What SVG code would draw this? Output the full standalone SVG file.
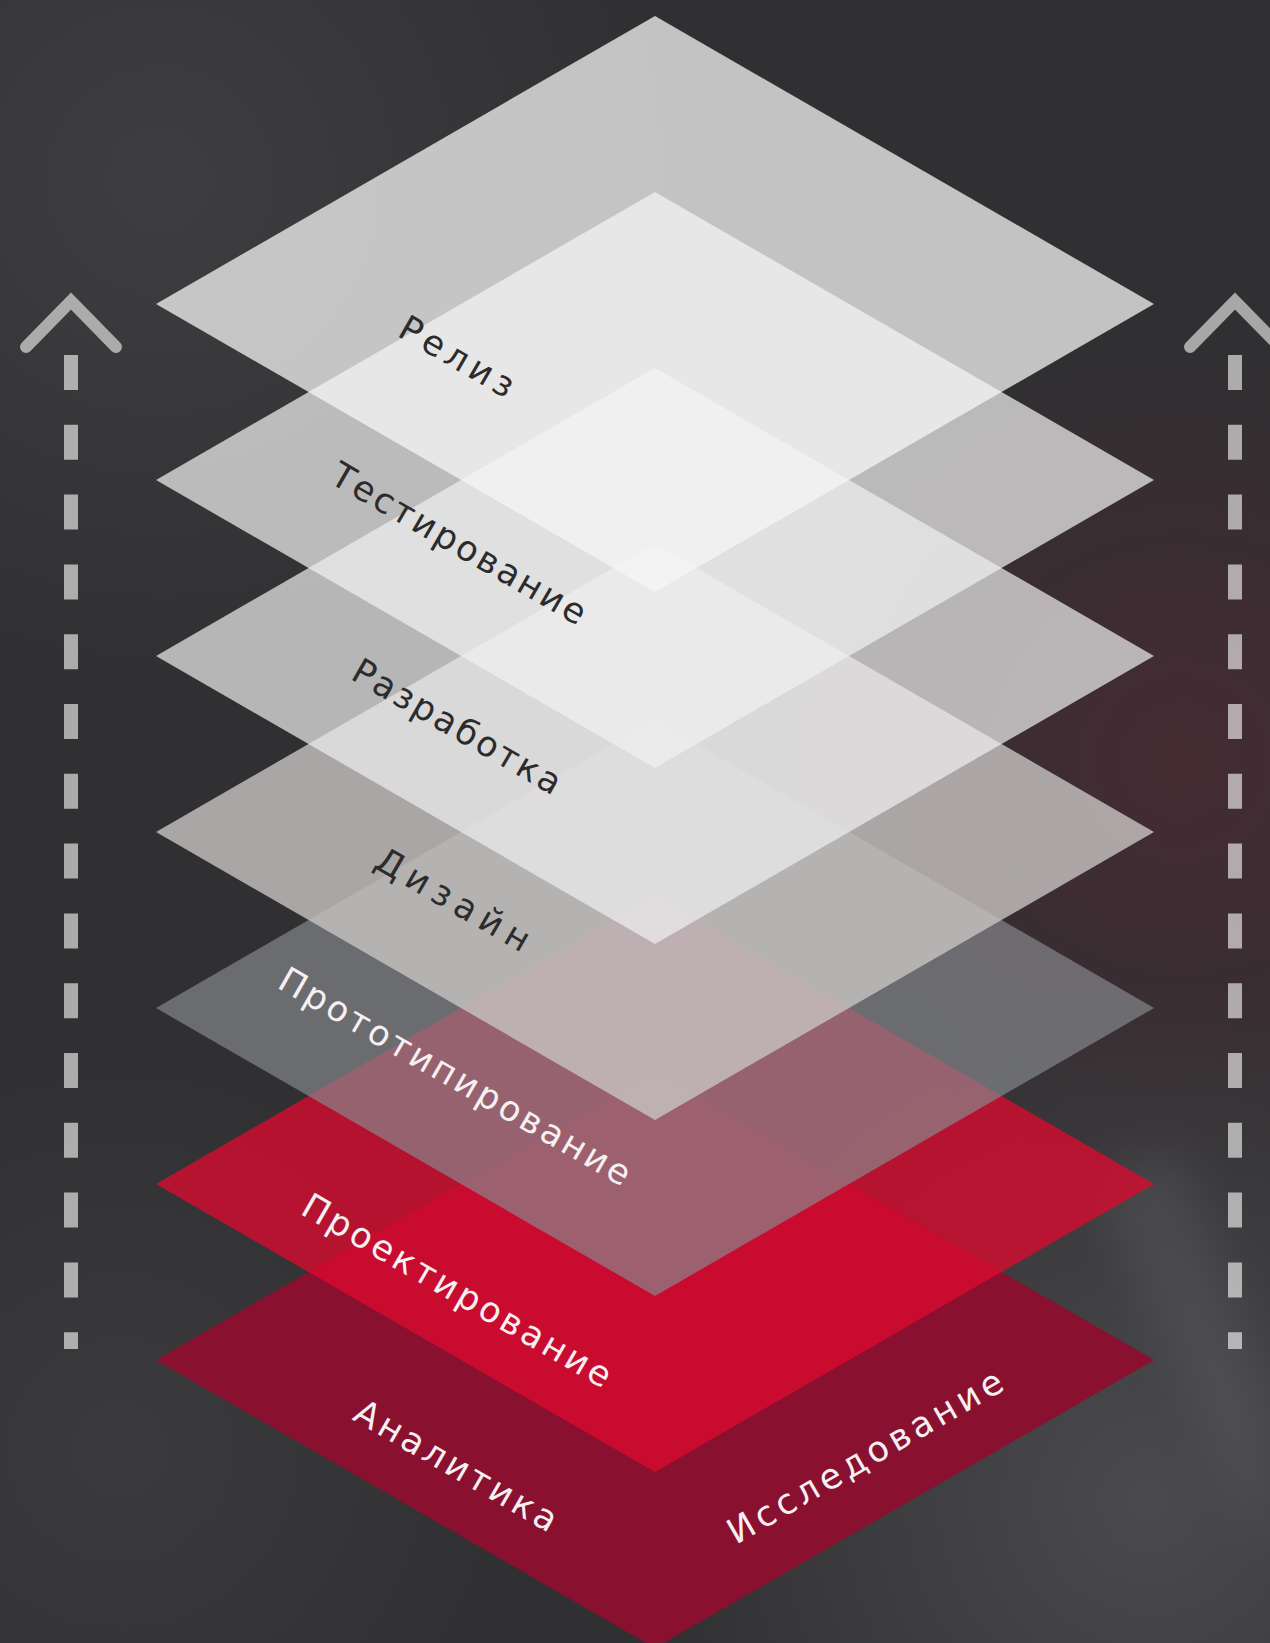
<svg xmlns="http://www.w3.org/2000/svg" width="1270" height="1643" viewBox="0 0 1270 1643">
  <defs>
    <style>
      .lbl { font-family: "DejaVu Sans", "Liberation Sans", sans-serif; font-size: 35px; }
      .dark { fill: #2c2b2c; }
      .light { fill: #f6f0f2; }
      .dash { stroke: #ffffff; stroke-opacity: 0.6; stroke-width: 14; stroke-dasharray: 35 34.8; fill: none; }
      .chev { stroke: #ffffff; stroke-opacity: 0.58; stroke-width: 12; fill: none; stroke-linecap: round; stroke-linejoin: miter; }
    </style>
    <radialGradient id="smokeBR" cx="1150" cy="1500" r="520" gradientUnits="userSpaceOnUse">
      <stop offset="0" stop-color="#56555a" stop-opacity="0.7"/>
      <stop offset="1" stop-color="#56555a" stop-opacity="0"/>
    </radialGradient>
    <radialGradient id="maroon" cx="1180" cy="760" r="420" gradientUnits="userSpaceOnUse">
      <stop offset="0" stop-color="#4a2a33" stop-opacity="0.8"/>
      <stop offset="1" stop-color="#4a2a33" stop-opacity="0"/>
    </radialGradient>
    <radialGradient id="smokeTL" cx="160" cy="180" r="520" gradientUnits="userSpaceOnUse">
      <stop offset="0" stop-color="#444345" stop-opacity="0.7"/>
      <stop offset="1" stop-color="#444345" stop-opacity="0"/>
    </radialGradient>
    <radialGradient id="smokeBL" cx="120" cy="1450" r="420" gradientUnits="userSpaceOnUse">
      <stop offset="0" stop-color="#3f3e41" stop-opacity="0.7"/>
      <stop offset="1" stop-color="#3f3e41" stop-opacity="0"/>
    </radialGradient>
    <filter id="blur" x="-30%" y="-30%" width="160%" height="160%">
      <feGaussianBlur stdDeviation="25"/>
    </filter>
  </defs>

  <g id="background">
    <rect x="0" y="0" width="1270" height="1643" fill="#302f31"/>
    <rect x="0" y="0" width="1270" height="1643" fill="url(#smokeTL)"/>
    <rect x="0" y="0" width="1270" height="1643" fill="url(#smokeBL)"/>
    <rect x="0" y="0" width="1270" height="1643" fill="url(#maroon)"/>
    <rect x="0" y="0" width="1270" height="1643" fill="url(#smokeBR)"/>
    <path d="M1090,1180 L1180,1150 L1270,1420 L1270,1560 Z" fill="#6a696e" opacity="0.3" filter="url(#blur)"/>
  </g>

  <g id="arrows">
    <g id="arrow-left">
      <line class="dash" x1="71" y1="355" x2="71" y2="1349"/>
      <path class="chev" d="M26,347 L71,301 L116,347"/>
    </g>
    <g id="arrow-right">
      <line class="dash" x1="1235" y1="355" x2="1235" y2="1349"/>
      <path class="chev" d="M1190,347 L1235,301 L1280,347"/>
    </g>
  </g>

  <g id="layers">
    <g id="layer-analitika">
      <polygon points="655,1072 1154,1360 655,1648 156,1360" fill="#8a1030"/>
      <text class="lbl light" x="450" y="1476" text-anchor="middle" textLength="228" lengthAdjust="spacing" transform="rotate(30 450 1476)">Аналитика</text>
      <text class="lbl light" x="871" y="1467" text-anchor="middle" textLength="312" lengthAdjust="spacing" transform="rotate(-30 871 1467)">Исследование</text>
    </g>
    <g id="layer-proektirovanie">
      <polygon points="655,896 1154,1184 655,1472 156,1184" fill="#da0a2e" fill-opacity="0.78"/>
      <text class="lbl light" x="451" y="1301" text-anchor="middle" textLength="351" lengthAdjust="spacing" transform="rotate(30 451 1301)">Проектирование</text>
    </g>
    <g id="layer-prototipirovanie">
      <polygon points="655,720 1154,1008 655,1296 156,1008" fill="#878a8f" fill-opacity="0.67"/>
      <text class="lbl light" x="449" y="1087" text-anchor="middle" textLength="400" lengthAdjust="spacing" transform="rotate(30 449 1087)">Прототипирование</text>
    </g>
    <g id="layer-dizain">
      <polygon points="655,544 1154,832 655,1120 156,832" fill="#c8c4c3" fill-opacity="0.8"/>
      <text class="lbl dark" x="447" y="910" text-anchor="middle" textLength="172" lengthAdjust="spacing" transform="rotate(30 447 910)">Дизайн</text>
    </g>
    <g id="layer-razrabotka">
      <polygon points="655,368 1154,656 655,944 156,656" fill="#f0f0f0" fill-opacity="0.7"/>
      <text class="lbl dark" x="451" y="737" text-anchor="middle" textLength="235" lengthAdjust="spacing" transform="rotate(30 451 737)">Разработка</text>
    </g>
    <g id="layer-testirovanie">
      <polygon points="655,192 1154,480 655,768 156,480" fill="#f0f0f0" fill-opacity="0.72"/>
      <text class="lbl dark" x="453" y="554" text-anchor="middle" textLength="288" lengthAdjust="spacing" transform="rotate(30 453 554)">Тестирование</text>
    </g>
    <g id="layer-reliz">
      <polygon points="655,16 1154,304 655,592 156,304" fill="#f5f5f5" fill-opacity="0.75"/>
      <text class="lbl dark" x="451" y="367" text-anchor="middle" textLength="127" lengthAdjust="spacing" transform="rotate(30 451 367)">Релиз</text>
    </g>
  </g>
</svg>
